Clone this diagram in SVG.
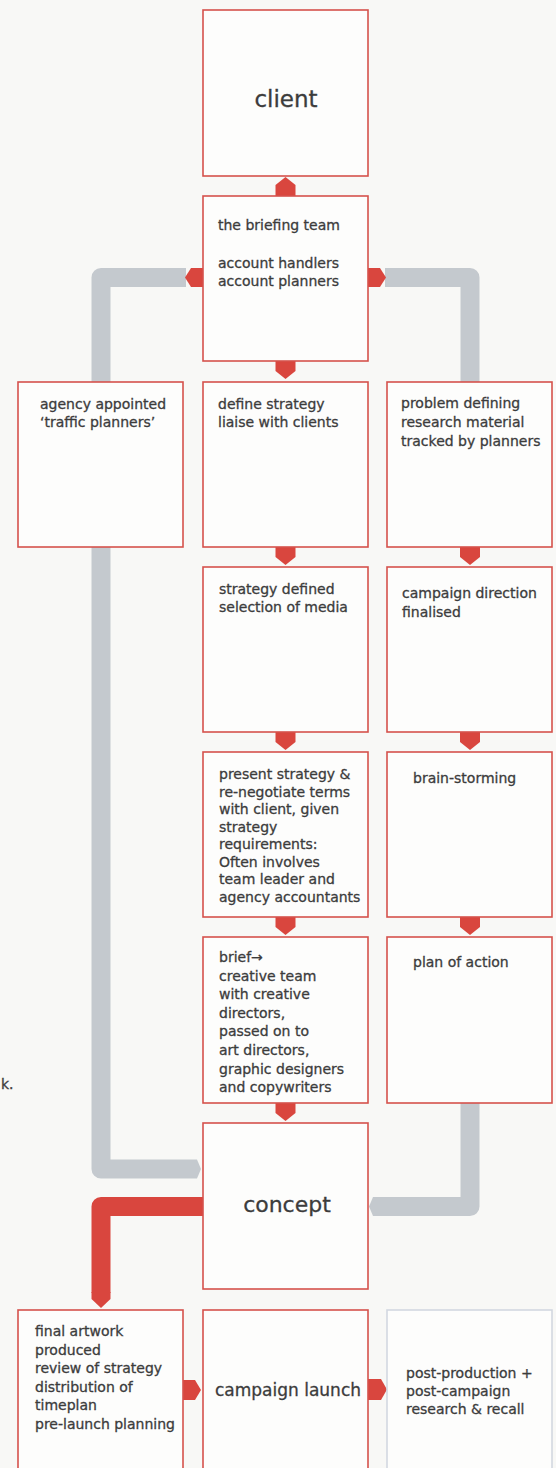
<svg xmlns="http://www.w3.org/2000/svg" width="556" height="1468" viewBox="0 0 556 1468">
<style>
.box{fill:#fdfdfc;stroke:#d5524c;stroke-width:1.6}
.box2{fill:#fdfdfc;stroke:#d3d8e0;stroke-width:1.6}
.t{font-family:"DejaVu Sans","Liberation Sans",sans-serif;font-size:14px;fill:#3c3c3c;stroke:#3c3c3c;stroke-width:0.3}
.big{font-size:22px;text-anchor:middle}
.mid{font-size:17px;text-anchor:middle}
.arr{fill:#d9463e}
.gray{fill:none;stroke:#c4c9ce;stroke-width:19;stroke-linejoin:round}
.grayf{fill:#c4c9ce}
.red{fill:none;stroke:#d9463e;stroke-width:19;stroke-linejoin:round}
</style>
<rect x="0" y="0" width="556" height="1468" fill="#f8f8f6"/>
<g id="connectors">
  <path class="gray" d="M186 277.5 H101 V1169 H194"/>
  <polygon class="grayf" points="194,1159.5 197,1159.5 201,1169 197,1178.5 194,1178.5"/>
  <path class="gray" d="M385 277.5 H470 V384"/>
  <path class="gray" d="M470 1101 V1206.5 H376"/>
  <polygon class="grayf" points="376,1197 373,1197 369,1206.5 373,1216 376,1216"/>
  <path class="red" d="M204 1206.5 H101 V1293"/>
  <polygon class="arr" points="91.5,1292 110.5,1292 110.5,1299 101,1308 91.5,1299"/>
  <polygon class="arr" points="275.5,196 275.5,185 285.5,177 295.5,185 295.5,196"/>
  <polygon class="arr" points="203,268 191,268 185,277.5 191,287 203,287"/>
  <polygon class="arr" points="368,268 380,268 386,277.5 380,287 368,287"/>
  <polygon class="arr" points="275.5,361 295.5,361 295.5,371 285.5,379 275.5,371"/>
  <polygon class="arr" points="275.5,547 295.5,547 295.5,557 285.5,565 275.5,557"/>
  <polygon class="arr" points="275.5,732 295.5,732 295.5,742 285.5,750 275.5,742"/>
  <polygon class="arr" points="275.5,917 295.5,917 295.5,927 285.5,935 275.5,927"/>
  <polygon class="arr" points="275.5,1103 295.5,1103 295.5,1113 285.5,1121 275.5,1113"/>
  <polygon class="arr" points="460,547 480,547 480,557 470,565 460,557"/>
  <polygon class="arr" points="460,732 480,732 480,742 470,750 460,742"/>
  <polygon class="arr" points="460,917 480,917 480,927 470,935 460,927"/>
  <polygon class="arr" points="183,1380 195,1380 201,1390 195,1400 183,1400"/>
  <polygon class="arr" points="368,1379 381,1379 387,1389.5 381,1400 368,1400"/>
</g>
<g id="client">
  <rect class="box" x="203" y="10" width="165" height="166"/>
  <text class="t big" x="286" y="107" style="font-size:23px">client</text>
</g>
<g id="briefing">
  <rect class="box" x="203" y="196" width="165" height="165"/>
  <text class="t" x="218" y="230">the briefing team</text>
  <text class="t" x="218" y="268">account handlers<tspan x="218" y="286">account planners</tspan></text>
</g>
<g id="agency">
  <rect class="box" x="18" y="382" width="165" height="165"/>
  <text class="t" x="40" y="409">agency appointed<tspan x="40" y="427">‘traffic planners’</tspan></text>
</g>
<g id="define">
  <rect class="box" x="203" y="382" width="165" height="165"/>
  <text class="t" x="218" y="409">define strategy<tspan x="218" y="427">liaise with clients</tspan></text>
</g>
<g id="problem">
  <rect class="box" x="387" y="382" width="165" height="165"/>
  <text class="t" x="401" y="408">problem defining<tspan x="401" y="427">research material</tspan><tspan x="401" y="446">tracked by planners</tspan></text>
</g>
<g id="strategy">
  <rect class="box" x="203" y="567" width="165" height="165"/>
  <text class="t" x="219" y="594">strategy defined<tspan x="219" y="612">selection of media</tspan></text>
</g>
<g id="direction">
  <rect class="box" x="387" y="567" width="165" height="165"/>
  <text class="t" x="402" y="598">campaign direction<tspan x="402" y="617">finalised</tspan></text>
</g>
<g id="present">
  <rect class="box" x="203" y="752" width="165" height="165"/>
  <text class="t" x="219" y="779">present strategy &amp;<tspan x="219" y="796.5">re-negotiate terms</tspan><tspan x="219" y="814">with client, given</tspan><tspan x="219" y="831.5">strategy</tspan><tspan x="219" y="849">requirements:</tspan><tspan x="219" y="866.5">Often involves</tspan><tspan x="219" y="884">team leader and</tspan><tspan x="219" y="901.5">agency accountants</tspan></text>
</g>
<g id="brainstorming">
  <rect class="box" x="387" y="752" width="165" height="165"/>
  <text class="t" x="413" y="783">brain-storming</text>
</g>
<g id="brief">
  <rect class="box" x="203" y="937" width="165" height="166"/>
  <text class="t" x="219" y="962">brief→<tspan x="219" y="980.6">creative team</tspan><tspan x="219" y="999.2">with creative</tspan><tspan x="219" y="1017.8">directors,</tspan><tspan x="219" y="1036.4">passed on to</tspan><tspan x="219" y="1055">art directors,</tspan><tspan x="219" y="1073.6">graphic designers</tspan><tspan x="219" y="1092.2">and copywriters</tspan></text>
</g>
<g id="plan">
  <rect class="box" x="387" y="937" width="165" height="166"/>
  <text class="t" x="413" y="967">plan of action</text>
</g>
<g id="concept">
  <rect class="box" x="203" y="1123" width="165" height="166"/>
  <text class="t big" x="287" y="1212">concept</text>
</g>
<g id="artwork">
  <rect class="box" x="18" y="1310" width="165" height="170"/>
  <text class="t" x="35" y="1336">final artwork<tspan x="35" y="1354.6">produced</tspan><tspan x="35" y="1373.2">review of strategy</tspan><tspan x="35" y="1391.8">distribution of</tspan><tspan x="35" y="1410.4">timeplan</tspan><tspan x="35" y="1429">pre-launch planning</tspan></text>
</g>
<g id="launch">
  <rect class="box" x="203" y="1310" width="165" height="170"/>
  <text class="t mid" x="288" y="1396">campaign launch</text>
</g>
<g id="postproduction">
  <rect class="box2" x="387" y="1310" width="165" height="170"/>
  <text class="t" x="406" y="1378">post-production +<tspan x="406" y="1396">post-campaign</tspan><tspan x="406" y="1414">research &amp; recall</tspan></text>
</g>
<text class="t" x="1" y="1089">k.</text>
</svg>
